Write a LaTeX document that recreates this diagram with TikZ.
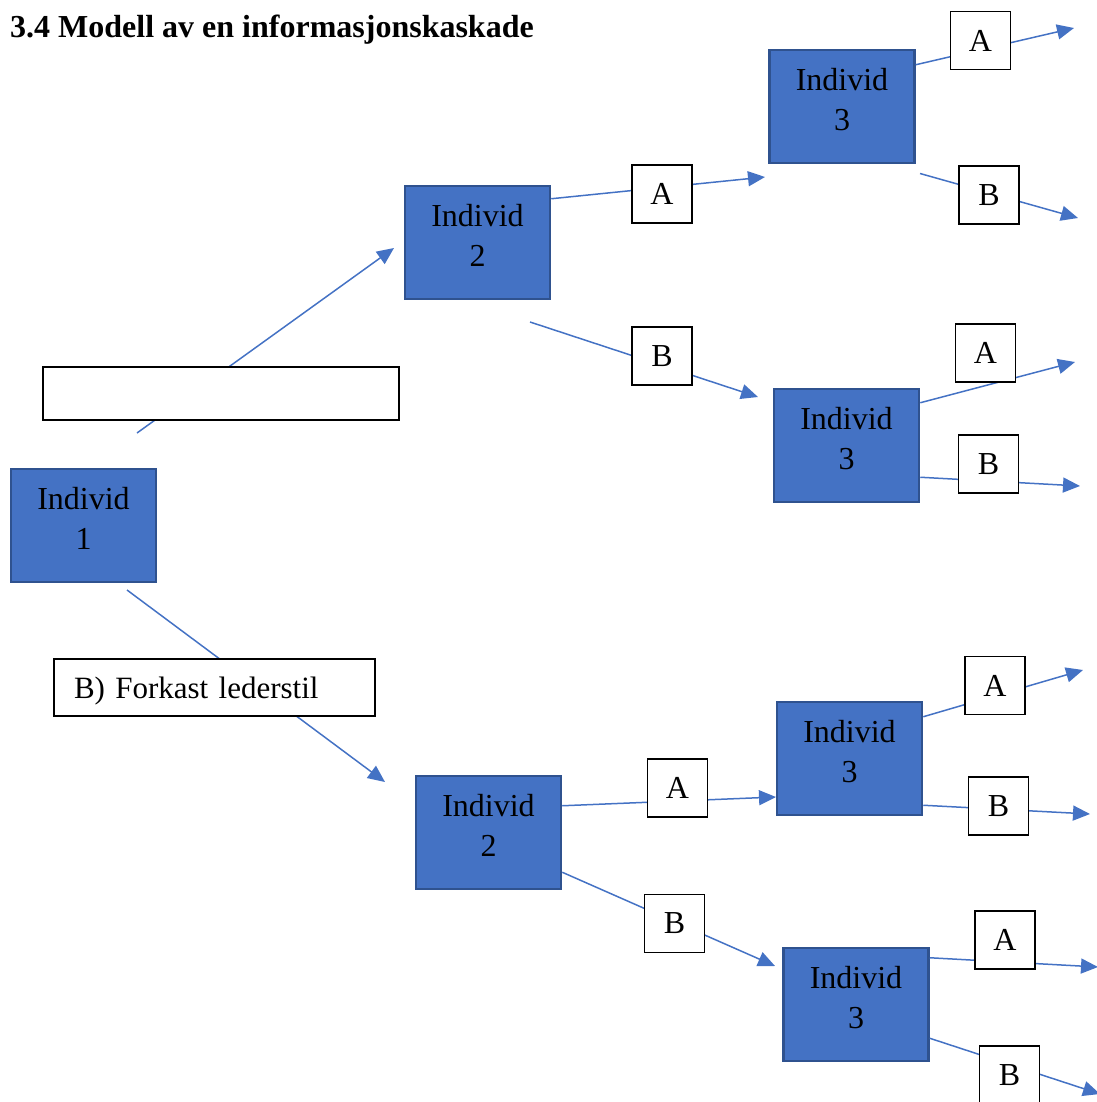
\documentclass[tikz,border=0pt]{standalone}
\usepackage{fontspec}
\setmainfont{Liberation Serif}
\usetikzlibrary{arrows.meta}
\definecolor{boxblue}{HTML}{4472C4}
\definecolor{boxedge}{HTML}{2F528F}

\begin{document}
\begin{tikzpicture}[x=1pt,y=-1pt,
    indiv/.style={rectangle, draw=boxedge, fill=boxblue, line width=2.5pt,
      minimum width=145pt, minimum height=113pt, inner sep=0pt, align=center,
      text height=61.3pt, text depth=14pt, font=\fontsize{32}{39.3}\selectfont},
    choice/.style={rectangle, draw, fill=white, line width=1.8pt,
      minimum width=60pt, minimum height=58pt, inner sep=0pt,
      font=\fontsize{32}{38}\selectfont},
    flow/.style={draw=boxblue, line width=1.5pt, -{Triangle[length=17pt,width=15pt]}}]
        \useasboundingbox (0,0) rectangle (1096,1102);
        \node [anchor=base west, inner sep=0pt, font=\bfseries\fontsize{32}{38}\selectfont] (title) at (10,38) {3.4 Modell av en informasjonskaskade};

        % individer
        \node (i1) [indiv] at (83.5,525.5) {Individ\\1};
        \node (i2a) [indiv] at (477.5,242.5) {Individ\\2};
        \node (i2b) [indiv] at (488.5,832.5) {Individ\\2};
        \node (i3a) [indiv] at (842,106.5) {Individ\\3};
        \node (i3b) [indiv] at (846.5,445.5) {Individ\\3};
        \node (i3c) [indiv] at (849.5,758.5) {Individ\\3};
        \node (i3d) [indiv] at (856,1004.5) {Individ\\3};

        % free ends
        \coordinate (s1) at (137,433);   \coordinate (t1) at (394,248);
        \coordinate (s2) at (127,590);   \coordinate (t2) at (385,782);
        \coordinate (t3) at (765,177);
        \coordinate (s4) at (530,322);   \coordinate (t4) at (758,397);
        \coordinate (t5) at (1074,28);
        \coordinate (s6) at (920,173.5); \coordinate (t6) at (1078,218);
        \coordinate (t7) at (1075,362);
        \coordinate (t8) at (1080,486);
        \coordinate (t9) at (776,797);
        \coordinate (t10) at (775,966);
        \coordinate (t11) at (1083,670);
        \coordinate (t12) at (1090,814);
        \coordinate (t13) at (1098,967);
        \coordinate (t14) at (1100,1094);

        \draw [flow] (s1) -- (t1);
        \draw [flow] (s2) -- (t2);
        \draw [flow] ([yshift=-14pt]i2a.north east) -- (t3);
        \draw [flow] (s4) -- (t4);
        \draw [flow] ([yshift=-16pt]i3a.north east) -- (t5);
        \draw [flow] (s6) -- (t6);
        \draw [flow] ([yshift=-15pt]i3b.north east) -- (t7);
        \draw [flow] ([yshift=26pt]i3b.south east) -- (t8);
        \draw [flow] ([yshift=-31pt]i2b.north east) -- (t9);
        \draw [flow] ([yshift=18pt]i2b.south east) -- (t10);
        \draw [flow] ([yshift=-16pt]i3c.north east) -- (t11);
        \draw [flow] ([yshift=11pt]i3c.south east) -- (t12);
        \draw [flow] ([yshift=-11pt]i3d.north east) -- (t13);
        \draw [flow] ([yshift=24pt]i3d.south east) -- (t14);

        % valg
        \node (e1) [rectangle, draw, fill=white, line width=1.8pt, minimum width=356pt, minimum height=53pt] at (221,393.5) {};
        \node (f1) [rectangle, draw, fill=white, line width=1.8pt, minimum width=321pt, minimum height=57pt,
          text width=281pt, align=left, inner xsep=20pt, inner ysep=0pt, text height=21pt, text depth=0pt,
          font=\fontsize{31}{38}\selectfont] at (214.5,687.5) {B) Forkast lederstil};
        \node (a2a) [choice] at (662,194) {A};
        \node (b2a) [choice] at (662,356) {B};
        \node (a3a) [choice] at (980.5,40.5) {A};
        \node (b3a) [choice] at (989,195) {B};
        \node (a3b) [choice] at (985.5,353) {A};
        \node (b3b) [choice] at (988.5,464) {B};
        \node (a2b) [choice] at (677.5,788) {A};
        \node (b2b) [choice] at (674.5,923.5) {B};
        \node (a3c) [choice] at (995,685.5) {A};
        \node (b3c) [choice] at (998.5,806) {B};
        \node (a3d) [choice] at (1005,940) {A};
        \node (b3d) [choice] at (1009.5,1075) {B};
    \end{tikzpicture}
\end{document}
